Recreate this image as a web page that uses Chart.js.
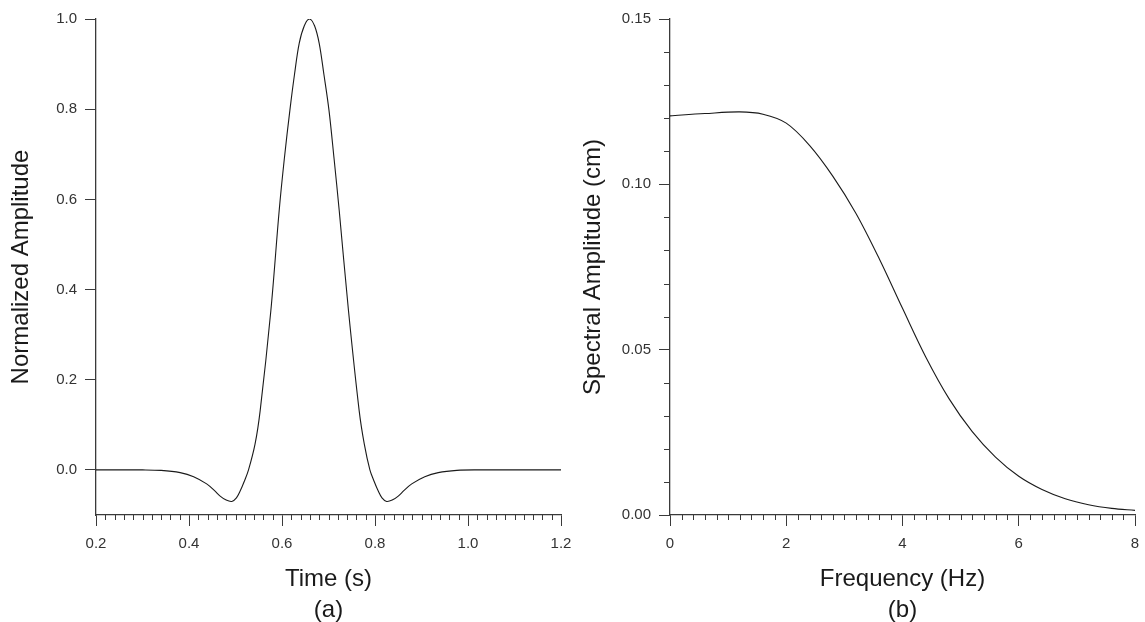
<!DOCTYPE html>
<html>
<head>
<meta charset="utf-8">
<script src="https://cdn.jsdelivr.net/npm/chart.js@4/dist/chart.umd.min.js"></script>
<style>
  html, body { margin: 0; padding: 0; background: #fff; }
  #wrap { position: relative; width: 1145px; height: 622px; overflow: hidden; }
  canvas { position: absolute; top: 0; }
  #left { left: 0; }
  #right { left: 572px; }
</style>
</head>
<body>
<div id="wrap">
  <canvas id="left" width="572" height="622"></canvas>
  <canvas id="right" width="573" height="622"></canvas>
</div>
<script>
// (a) wavelet in time
const timeS   = [0.20, 0.30, 0.34, 0.381, 0.41, 0.438, 0.455, 0.467, 0.48, 0.492, 0.502, 0.510, 0.519, 0.528, 0.542, 0.553,
                 0.576, 0.594, 0.605, 0.617, 0.627, 0.637, 0.648, 0.659, 0.670, 0.680, 0.690, 0.701, 0.712, 0.723, 0.743,
                 0.766, 0.777, 0.789, 0.798, 0.807, 0.815, 0.825, 0.837, 0.850, 0.862, 0.879, 0.907, 0.936, 0.976, 1.02, 1.20];
const normAmp = [0, 0, -0.001, -0.006, -0.015, -0.031, -0.046, -0.058, -0.067, -0.070, -0.062, -0.047, -0.025, 0.0, 0.057, 0.131,
                 0.353, 0.576, 0.69, 0.798, 0.878, 0.946, 0.985, 1.0, 0.985, 0.946, 0.878, 0.798, 0.69, 0.576, 0.353,
                 0.131, 0.057, 0.0, -0.025, -0.047, -0.062, -0.070, -0.067, -0.058, -0.046, -0.031, -0.015, -0.006, -0.001, 0, 0];
const timeTicks = [0.2, 0.4, 0.6, 0.8, 1.0, 1.2];
const normTicks = [0.0, 0.2, 0.4, 0.6, 0.8, 1.0];

// (b) amplitude spectrum
const freqHz  = [0, 0.6, 1.2, 1.6, 2.0, 2.4, 2.8, 3.2, 3.6, 4.0, 4.4, 4.8, 5.2, 5.6, 6.0, 6.4, 6.8, 7.2, 7.6, 8.0];
const specAmp = [0.1207, 0.1214, 0.1219, 0.1212, 0.1185, 0.1118, 0.1025, 0.0912, 0.0775, 0.0625, 0.0478, 0.0352, 0.0252,
                 0.0175, 0.0117, 0.0077, 0.0049, 0.0031, 0.0020, 0.0014];
const freqTicks = [0, 2, 4, 6, 8];
const specTicks = [0.00, 0.05, 0.10, 0.15];

const AXIS = '#3a3a3a';
const FONT = "'Liberation Sans', Arial, sans-serif";

// small ticks between the labelled ones
const minorTicks = {
  id: 'minorTicks',
  afterDraw(chart, args, opts) {
    const { ctx, scales: { x, y } } = chart;
    ctx.save();
    ctx.strokeStyle = AXIS;
    ctx.lineWidth = 1;
    const draw = (scale, step, every, len, vertical) => {
      if (!step) return;
      const n = Math.round((scale.max - scale.min) / step);
      for (let i = 0; i <= n; i++) {
        if (i % every === 0) continue;
        const p = Math.round(scale.getPixelForValue(scale.min + i * step)) + 0.5;
        ctx.beginPath();
        if (vertical) { ctx.moveTo(p, x.top); ctx.lineTo(p, x.top + len); }
        else { ctx.moveTo(y.right, p); ctx.lineTo(y.right - len, p); }
        ctx.stroke();
      }
    };
    draw(x, opts.xStep, opts.xEvery, 5, true);
    draw(y, opts.yStep, opts.yEvery, 6, false);
    ctx.restore();
  }
};

function makeChart(id, xs, ys, xr, yr, xt, yt, xLabel, yLabel, letter, xFmt, yFmt, minor, yWidth, rightPad) {
  return new Chart(document.getElementById(id), {
    type: 'line',
    data: {
      datasets: [{
        data: xs.map((v, i) => ({ x: v, y: ys[i] })),
        borderColor: '#1a1a1a',
        borderWidth: 1.1,
        pointRadius: 0,
        tension: 0.35,
        fill: false,
      }]
    },
    options: {
      responsive: false,
      animation: false,
      layout: { padding: { top: 19, right: rightPad, left: 0, bottom: 0 } },
      plugins: { legend: { display: false }, tooltip: { enabled: false }, minorTicks: minor },
      scales: {
        x: {
          type: 'linear', min: xr[0], max: xr[1],
          afterBuildTicks: s => { s.ticks = xt.map(v => ({ value: v })); },
          afterFit: s => { s.height = 107; s.paddingLeft = 0; s.paddingRight = 0; },
          border: { display: true, color: AXIS, width: 1.3 },
          grid: { drawOnChartArea: false, drawTicks: true, tickLength: 11, tickColor: AXIS },
          ticks: { color: '#333', padding: 9, font: { family: FONT, size: 15 }, callback: xFmt, maxRotation: 0 },
          title: {
            display: true, text: [xLabel, letter], color: '#1a1a1a',
            font: { family: FONT, size: 24, lineHeight: 1.29 }, padding: { top: 0, bottom: -4 }
          }
        },
        y: {
          type: 'linear', min: yr[0], max: yr[1],
          afterBuildTicks: s => { s.ticks = yt.map(v => ({ value: v })); },
          afterFit: s => { s.width = yWidth; s.paddingTop = 0; s.paddingBottom = 0; },
          border: { display: true, color: AXIS, width: 1.3 },
          grid: { drawOnChartArea: false, drawTicks: true, tickLength: 11, tickColor: AXIS },
          ticks: { color: '#333', padding: 8, font: { family: FONT, size: 15 }, callback: yFmt },
          title: {
            display: true, text: yLabel, color: '#1a1a1a',
            font: { family: FONT, size: 24, lineHeight: 1.2 }, padding: { top: 7, bottom: 0 }
          }
        }
      }
    },
    plugins: [minorTicks]
  });
}

makeChart('left', timeS, normAmp, [0.2, 1.2], [-0.1, 1.0], timeTicks, normTicks,
  'Time (s)', 'Normalized Amplitude', '(a)',
  v => v.toFixed(1), v => v.toFixed(1),
  { xStep: 0.02, xEvery: 10 }, 96, 11);

makeChart('right', freqHz, specAmp, [0, 8], [0, 0.15], freqTicks, specTicks,
  'Frequency (Hz)', 'Spectral Amplitude (cm)', '(b)',
  v => String(v), v => v.toFixed(2),
  { xStep: 0.2, xEvery: 10, yStep: 0.01, yEvery: 5 }, 98, 10);
</script>
</body>
</html>
